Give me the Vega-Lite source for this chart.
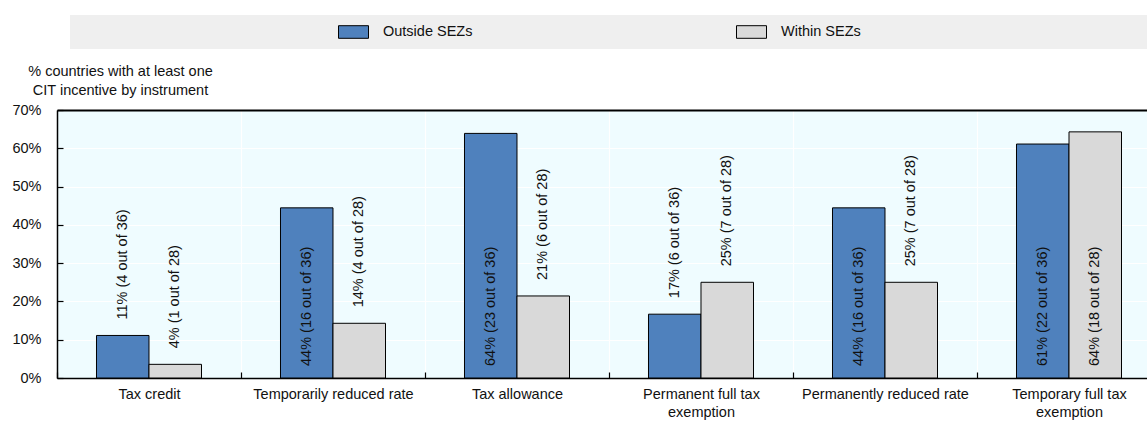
{
  "$schema": "https://vega.github.io/schema/vega-lite/v6.json",
  "width": 1090,
  "height": 268,
  "autosize": {"type": "none"},
  "padding": {"left": 57, "top": 110, "right": 0, "bottom": 45},
  "background": "white",
  "config": {
    "font": "Liberation Sans",
    "view": {"fill": "#EFFCFF", "stroke": null},
    "axis": {"labelFont": "Liberation Sans", "labelFontSize": 14.5, "labelColor": "#111", "titleFont": "Liberation Sans", "titleFontSize": 14.5, "titleFontWeight": "normal", "titleColor": "#111", "gridColor": "white", "gridWidth": 1.2, "gridOpacity": 1, "domainColor": "black", "domainWidth": 1.5, "tickColor": "black", "tickWidth": 1.2},
    "legend": {"labelFont": "Liberation Sans", "labelFontSize": 14.5, "labelColor": "#111"}
  },
  "data": {
    "values": [
      {"instrument": "Tax credit", "series": "Outside SEZs", "share": 0.1111, "label": "11% (4 out of 36)"},
      {"instrument": "Tax credit", "series": "Within SEZs", "share": 0.0357, "label": "4% (1 out of 28)"},
      {"instrument": "Temporarily reduced rate", "series": "Outside SEZs", "share": 0.4444, "label": "44% (16 out of 36)"},
      {"instrument": "Temporarily reduced rate", "series": "Within SEZs", "share": 0.1429, "label": "14% (4 out of 28)"},
      {"instrument": "Tax allowance", "series": "Outside SEZs", "share": 0.6389, "label": "64% (23 out of 36)"},
      {"instrument": "Tax allowance", "series": "Within SEZs", "share": 0.2143, "label": "21% (6 out of 28)"},
      {"instrument": "Permanent full tax exemption", "series": "Outside SEZs", "share": 0.1667, "label": "17% (6 out of 36)"},
      {"instrument": "Permanent full tax exemption", "series": "Within SEZs", "share": 0.25, "label": "25% (7 out of 28)"},
      {"instrument": "Permanently reduced rate", "series": "Outside SEZs", "share": 0.4444, "label": "44% (16 out of 36)"},
      {"instrument": "Permanently reduced rate", "series": "Within SEZs", "share": 0.25, "label": "25% (7 out of 28)"},
      {"instrument": "Temporary full tax exemption", "series": "Outside SEZs", "share": 0.6111, "label": "61% (22 out of 36)"},
      {"instrument": "Temporary full tax exemption", "series": "Within SEZs", "share": 0.6429, "label": "64% (18 out of 28)"}
    ]
  },
  "encoding": {
    "x": {
      "field": "instrument", "type": "nominal", "sort": null,
      "scale": {"paddingInner": 0.4293, "paddingOuter": 0.1766, "align": 0.6077},
      "axis": {"title": null, "bandPosition": 0.5, "tickOffset": -92, "labelOffset": 92, "tickSize": -6, "labelPadding": 15, "grid": true, "labelAngle": 0, "labelOverlap": false, "labelBound": false, "labelLineHeight": 18,
        "labelExpr": "datum.value == 'Permanent full tax exemption' ? ['Permanent full tax', 'exemption'] : datum.value == 'Temporary full tax exemption' ? ['Temporary full tax', 'exemption'] : datum.value"}
    },
    "xOffset": {"field": "series", "type": "nominal", "sort": ["Outside SEZs", "Within SEZs"], "scale": {"paddingInner": 0, "paddingOuter": 0}},
    "y": {
      "field": "share", "type": "quantitative",
      "scale": {"domain": [0, 0.7], "nice": false},
      "axis": {"values": [0, 0.1, 0.2, 0.3, 0.4, 0.5, 0.6, 0.7], "format": ".0%", "tickSize": -6, "labelPadding": 22, "grid": true,
        "gridColor": {"condition": {"test": "datum.value >= 0.69", "value": "black"}, "value": "white"},
        "gridWidth": {"condition": {"test": "datum.value >= 0.69", "value": 2}, "value": 1.2},
        "title": ["% countries with at least one", "CIT incentive by instrument"], "titleAngle": 0, "titleAlign": "center", "titleBaseline": "alphabetic", "titleX": 63, "titleY": -35, "titleLineHeight": 19}
    }
  },
  "layer": [
    {
      "mark": {"type": "bar", "stroke": "black", "strokeWidth": 1},
      "encoding": {
        "color": {
          "field": "series", "type": "nominal",
          "scale": {"domain": ["Outside SEZs", "Within SEZs"], "range": ["#4F81BD", "#D9D9D9"]},
          "legend": {
            "title": null, "orient": "none", "legendX": 13, "legendY": -95, "direction": "horizontal", "columns": 2,
            "fillColor": "#EFEFEF", "padding": 10, "columnPadding": 0, "clipHeight": 14,
            "symbolType": "M-1,-0.42H1V0.42H-1Z", "symbolSize": 900, "symbolStrokeColor": "black", "symbolStrokeWidth": 1, "symbolOpacity": 1,
            "symbolOffset": 258, "labelOffset": 14,
            "encode": {"entries": {"update": {"width": {"signal": "datum.index === 0 ? 398 : 659"}}}}
          }
        }
      }
    },
    {
      "transform": [{"filter": "datum.share < 0.3"}],
      "mark": {"type": "text", "angle": 270, "align": "left", "baseline": "middle", "dx": 16, "fontSize": 14.5, "font": "Liberation Sans", "color": "#111"},
      "encoding": {"text": {"field": "label"}}
    },
    {
      "transform": [{"filter": "datum.share >= 0.3"}],
      "mark": {"type": "text", "angle": 270, "align": "left", "baseline": "middle", "dx": 12, "fontSize": 14.5, "font": "Liberation Sans", "color": "#111"},
      "encoding": {"text": {"field": "label"}, "y": {"datum": 0, "type": "quantitative"}}
    }
  ]
}
